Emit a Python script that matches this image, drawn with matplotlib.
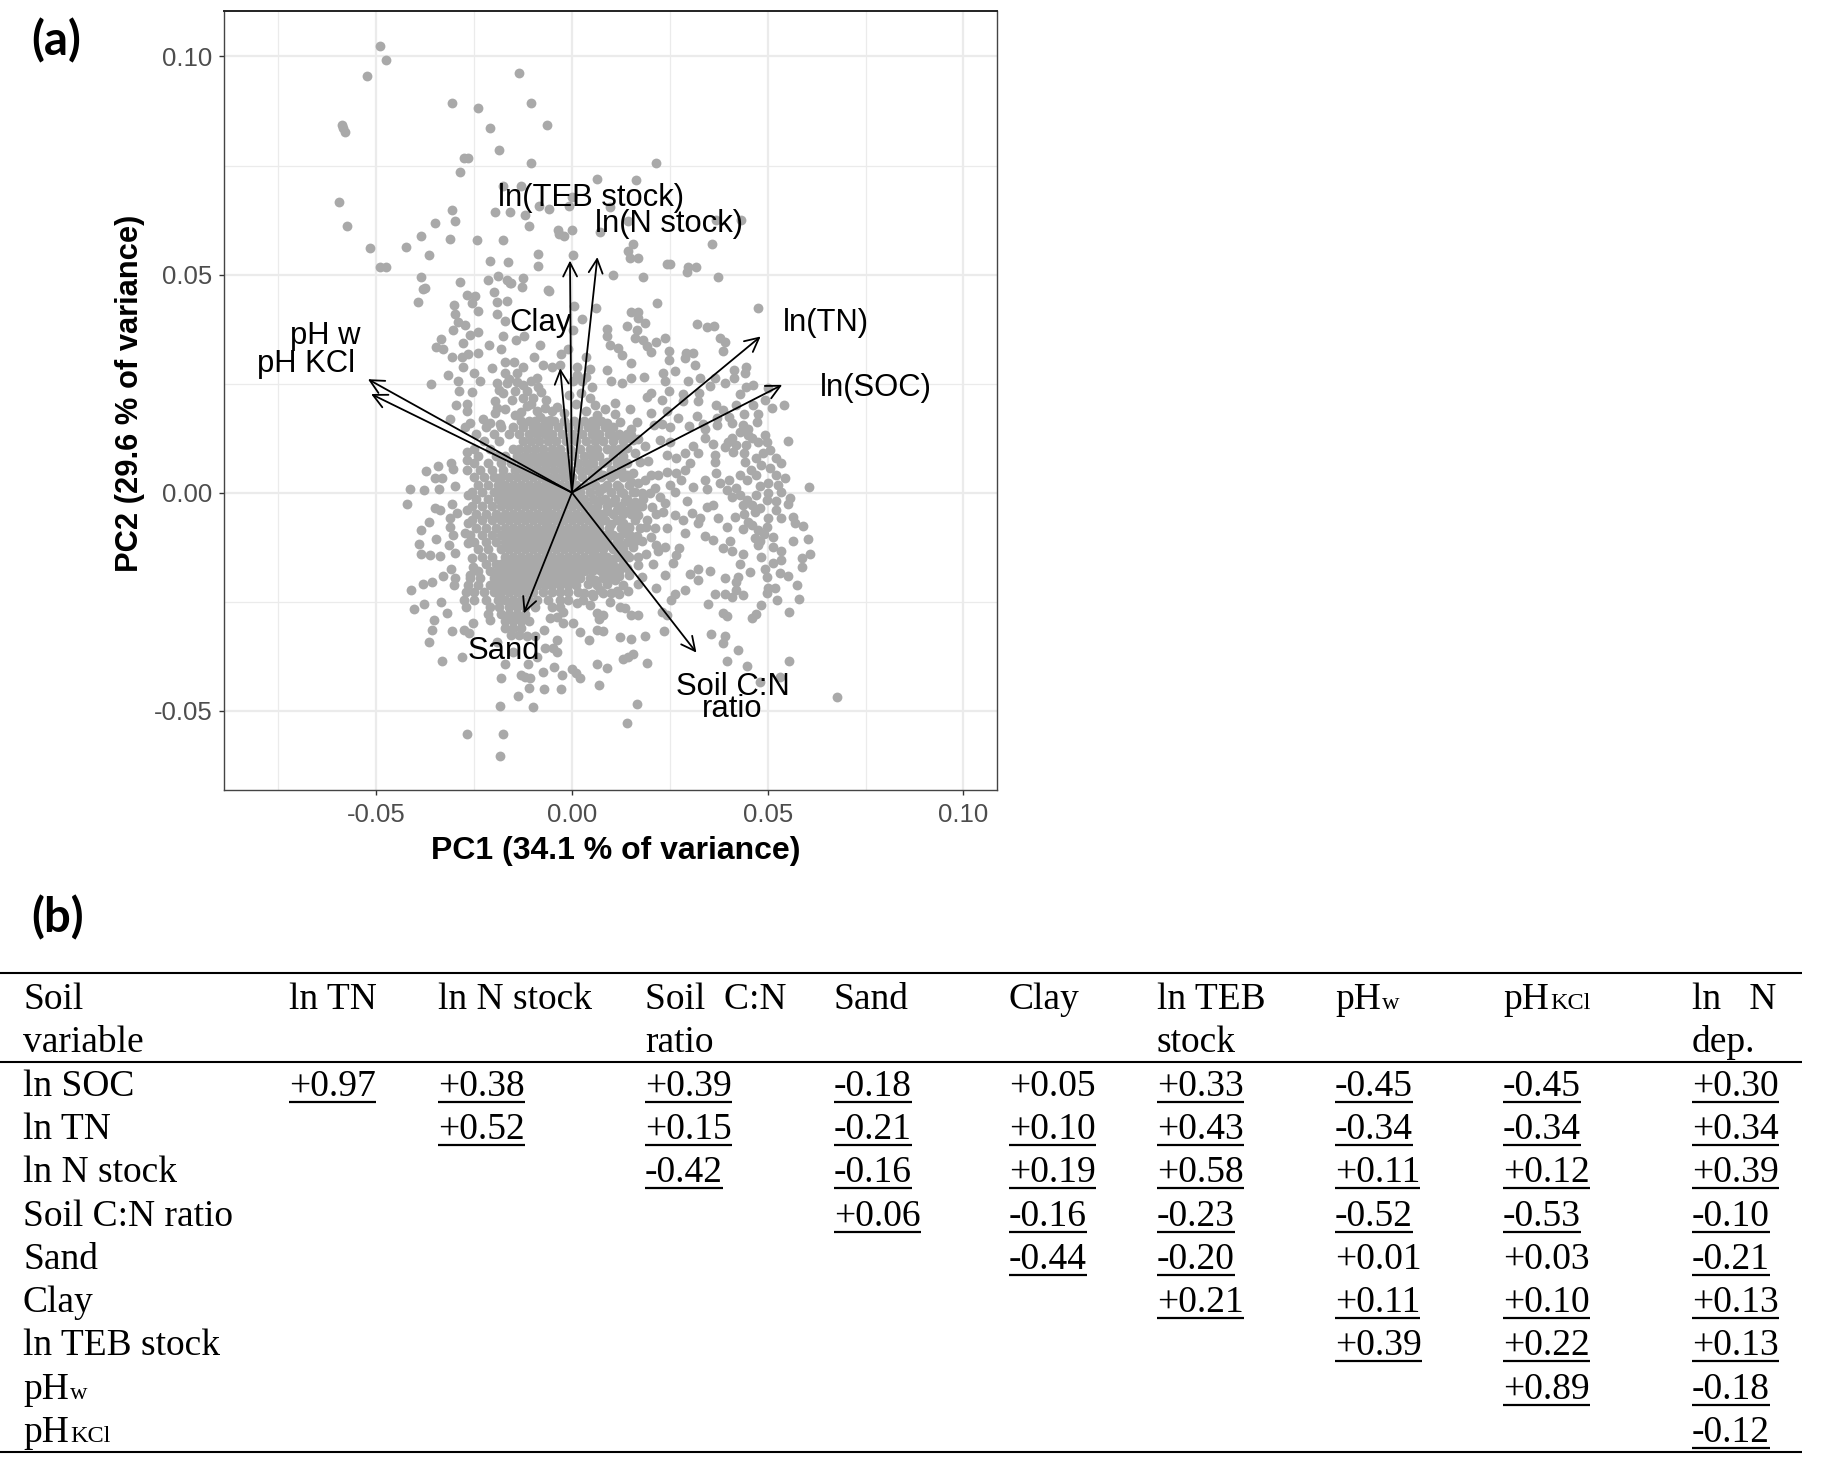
import matplotlib
matplotlib.use("Agg")
import matplotlib.pyplot as plt

plt.rcParams["font.family"] = ["Liberation Sans", "DejaVu Sans"]

# PCA scores, in thousandths of a unit (PC1, PC2)
upper_scores = [
    (-49.1, 102.4), (-47.4, 99.2), (-52.4, 95.5), (-13.4, 96.3), (-30.6, 89.4), (-23.9, 88.3), (-10.4, 89.4),
    (-20.9, 83.6), (-6.3, 84.3), (-58.7, 84.3), (-58.4, 83.6), (-57.9, 82.7), (-18.5, 78.5), (-27.5, 76.7),
    (-26.6, 76.7), (-10.4, 75.5), (21.4, 75.5), (-28.5, 73.4), (6.3, 71.9), (16.4, 71.6), (-13.0, 70.2),
    (-17.5, 70.2), (-59.6, 66.6), (-0.1, 67.7), (-8.3, 65.8), (-5.8, 65.1), (-0.8, 65.8), (9.7, 65.4),
    (-30.6, 64.7), (-19.6, 64.4), (-15.9, 64.4), (-12.1, 63.7), (-29.8, 62.2), (-35.1, 61.8), (-57.4, 61.1),
    (-10.9, 61.1), (14.4, 62.2), (36.9, 62.5), (43.1, 62.5), (-3.5, 60.2), (-3.2, 59.3), (-2.0, 58.9),
    (0.1, 60.1), (7.1, 59.7), (-38.5, 58.9), (-31.1, 58.2), (-24.3, 57.9), (-17.5, 57.9), (15.6, 57.1),
    (35.8, 57.1), (-51.6, 56.0), (-42.3, 56.4), (-36.4, 54.5), (-8.7, 54.6), (0.3, 54.5), (14.3, 55.4),
    (14.9, 53.9), (16.9, 53.9), (-20.9, 53.1), (-16.3, 52.8), (24.2, 52.4), (25.0, 52.4), (-8.7, 52.0),
    (-49.0, 51.7), (-47.4, 51.7), (29.7, 51.7), (31.8, 51.7), (29.4, 50.5), (10.5, 49.8), (18.2, 49.5),
    (37.4, 49.5), (-38.5, 49.5), (-28.5, 48.4), (-21.4, 48.8), (-19.0, 49.7), (-16.7, 48.8), (-15.5, 48.0),
    (-12.6, 49.2), (-37.5, 46.9), (-12.7, 47.1), (-6.0, 46.5),
]
mid_left_scores = [
    (-38.0, 46.6), (-39.4, 43.7), (-15.8, 48.0), (-5.8, 46.3), (-26.7, 45.2), (-24.8, 45.0), (-25.4, 43.4),
    (-23.9, 41.7), (-19.9, 45.9), (-19.1, 43.7), (-16.6, 44.0), (-30.1, 43.0), (-29.9, 40.9), (-19.2, 40.9),
    (-17.1, 39.4), (-29.0, 39.2), (-27.3, 38.5), (-30.3, 37.3), (-26.0, 36.2), (-23.9, 36.8), (-17.7, 36.0),
    (-14.3, 35.0), (-12.3, 36.0), (-33.5, 35.3), (-27.8, 34.3), (-21.1, 33.9), (-34.6, 33.3), (-32.9, 32.9),
    (-18.0, 32.9), (-8.2, 33.9), (-26.5, 31.8), (-23.9, 32.1), (-30.7, 31.0), (-28.2, 31.2), (-2.8, 31.8),
    (-0.9, 32.9), (-9.6, 31.0), (3.7, 31.0), (-17.1, 30.0), (-14.8, 30.0), (-12.4, 28.9), (-27.8, 28.7),
    (-20.3, 28.5), (-7.5, 29.3), (-5.2, 28.7), (-3.1, 29.3), (1.4, 28.7), (4.6, 28.3), (-31.6, 27.0),
    (-24.9, 27.4), (-17.1, 27.4), (-14.1, 27.4), (-9.0, 26.2), (-29.1, 25.5), (-23.5, 25.5), (-36.1, 24.8),
    (-19.2, 25.1), (-16.7, 25.1), (-12.4, 24.7), (-8.6, 24.3), (0.2, 25.5), (2.5, 25.5), (5.0, 24.3),
    (-28.9, 23.3), (-25.6, 23.0), (-17.5, 22.8), (-14.6, 23.2), (-11.6, 23.2), (-15.4, 21.3), (-9.9, 21.6),
    (-6.5, 21.3), (-19.7, 21.1), (-29.7, 20.1), (-26.7, 20.3), (-11.6, 19.9), (-19.2, 19.3), (-17.1, 19.1),
    (-26.9, 18.8), (-3.9, 19.7), (-14.6, 17.8), (-19.7, 18.2), (-9.0, 18.6), (-31.1, 16.8), (-22.6, 16.8),
    (-26.0, 15.9), (-27.3, 15.1), (-20.9, 15.9), (-18.4, 15.7), (-15.0, 15.1), (-8.2, 17.4), (-5.6, 16.7),
    (-13.0, 18.5), (-10.5, 20.4), (-7.0, 19.4), (-5.0, 18.6), (-2.0, 18.2), (1.0, 20.2), (3.5, 18.6),
    (6.0, 20.0), (-12.5, 21.6), (-8.0, 23.0), (-16.0, 26.0), (-14.0, 25.4), (-10.5, 25.6), (-18.5, 23.6),
    (-0.8, 22.4), (2.2, 22.8), (4.6, 21.6), (3.6, 26.6), (1.2, 27.0),
]
mid_right_scores = [
    (21.8, 43.4), (47.5, 42.3), (6.1, 42.3), (0.5, 42.7), (15.2, 41.5), (17.0, 41.4), (17.0, 40.0),
    (18.7, 39.0), (14.0, 38.3), (16.5, 37.3), (8.9, 37.5), (8.9, 35.8), (32.0, 38.7), (34.6, 37.9),
    (36.2, 38.2), (2.6, 39.8), (0.2, 37.3), (16.1, 35.4), (18.2, 35.0), (21.4, 34.6), (23.9, 35.4),
    (37.8, 35.4), (39.1, 34.6), (9.7, 33.9), (11.8, 33.1), (19.1, 33.5), (20.3, 32.3), (12.7, 31.6),
    (24.9, 32.5), (29.1, 32.1), (30.8, 32.1), (38.6, 32.5), (24.9, 30.4), (28.8, 30.8), (15.0, 29.7),
    (31.4, 29.3), (8.9, 28.1), (26.3, 27.8), (18.5, 26.6), (23.3, 27.4), (44.4, 28.7), (41.5, 28.1),
    (44.2, 27.4), (41.5, 26.2), (15.0, 26.2), (10.1, 25.5), (12.7, 25.2), (23.7, 25.5), (29.7, 25.5),
    (32.7, 26.2), (36.5, 26.2), (39.1, 25.1), (35.2, 24.5), (46.3, 24.7), (44.4, 24.2), (50.1, 23.9),
    (20.3, 22.8), (24.9, 23.2), (28.3, 22.6), (32.5, 22.8), (42.9, 22.6), (19.1, 21.9), (22.9, 21.3),
    (28.3, 20.9), (32.3, 20.9), (11.0, 20.5), (49.3, 21.3), (54.2, 20.1), (51.0, 19.3), (36.7, 20.1),
    (38.6, 19.0), (42.0, 20.1), (46.3, 20.1), (8.4, 19.1), (14.9, 19.1), (24.2, 18.7), (20.3, 18.2),
    (6.3, 17.8), (40.0, 17.4), (47.2, 16.3), (43.7, 15.5), (12.3, 16.3), (16.5, 16.3), (23.0, 15.8),
    (30.0, 15.2), (33.5, 15.8), (37.0, 15.4), (44.0, 18.0), (47.5, 18.0), (45.0, 14.5), (41.0, 16.0),
    (37.0, 17.0), (32.0, 17.5), (34.0, 14.5), (27.0, 17.0), (25.0, 15.0), (21.0, 15.5), (15.0, 14.5),
    (11.0, 18.0), (9.0, 16.0),
]
left_scores = [
    (-37.4, 4.9), (-34.3, 6.0), (-31.0, 6.7), (-30.3, 5.4), (-35.0, 3.4), (-33.1, 3.4), (-29.9, 1.6),
    (-33.9, 0.8), (-37.7, 0.5), (-41.4, 0.8), (-42.0, -2.7), (-35.0, -3.6), (-33.7, -4.0), (-30.7, -2.7),
    (-29.4, -4.6), (-31.1, -5.9), (-36.4, -6.7), (-38.6, -8.5), (-31.1, -7.8), (-30.5, -9.7), (-34.8, -10.6),
    (-39.0, -11.8), (-31.3, -12.0), (-38.6, -14.1), (-36.3, -14.4), (-33.6, -14.5), (-29.9, -13.9),
    (-25.4, -15.1), (-31.0, -17.6), (-32.9, -19.1), (-29.9, -19.6), (-26.9, 9.4), (-26.7, 7.5), (-26.9, 5.2),
    (-26.5, -0.5), (-26.7, -4.0), (-26.5, -7.0), (-27.3, -9.3), (-26.5, -11.6), (-25.2, -17.0), (-26.0, -18.9),
]
right_scores = [
    (34.0, 12.5), (36.1, 11.2), (55.1, 11.9), (49.3, 13.2), (49.7, 11.7), (47.6, 11.7), (50.6, 9.8),
    (48.9, 9.0), (42.9, 13.8), (45.0, 13.2), (39.9, 11.7), (42.0, 10.9), (39.1, 10.5), (41.2, 9.4),
    (43.9, 9.0), (44.2, 7.1), (53.4, 6.7), (48.4, 6.3), (50.6, 5.6), (45.7, 5.2), (42.9, 4.1), (47.0, 4.1),
    (52.1, 4.1), (54.5, 3.4), (44.6, 2.9), (50.1, 2.1), (52.6, 1.8), (60.6, 1.2), (42.0, 1.0), (39.5, 0.5),
    (53.5, 0.2), (50.1, -0.2), (42.9, -0.5), (44.6, -1.7), (49.7, -1.7), (55.7, -1.3), (55.2, -2.7),
    (45.9, -2.8), (43.7, -2.8), (52.1, -4.1), (46.7, -4.4), (50.1, -5.9), (53.4, -5.9), (56.4, -5.7),
    (45.0, -6.7), (41.6, -5.7), (37.4, -5.9), (57.0, -7.0), (58.9, -7.6), (39.5, -7.8), (43.7, -8.4),
    (47.6, -8.6), (49.7, -7.8), (46.7, -10.5), (51.4, -10.1), (60.2, -10.6), (56.4, -11.2), (47.6, -12.0),
    (51.4, -12.4), (40.3, -11.2), (38.6, -12.8), (40.8, -13.5), (43.7, -14.1), (60.9, -14.1), (53.5, -13.5),
    (48.4, -14.7), (58.8, -15.1), (53.5, -15.4), (51.4, -16.2), (42.9, -16.4), (58.8, -17.1), (49.3, -17.6),
    (45.4, -18.3), (53.1, -18.5), (55.1, -19.1), (49.7, -19.3), (42.5, -19.3), (39.1, -19.6),
    (31.0, 10.6), (28.9, 9.0), (32.3, 9.0), (26.7, 7.9), (24.2, 8.6), (36.5, 8.6), (36.5, 7.1), (30.1, 6.7),
    (28.9, 5.2), (36.9, 4.6), (24.2, 4.8), (22.0, 4.1), (20.3, 4.1), (26.5, 4.4), (27.8, 2.9), (34.0, 2.8),
    (37.8, 2.3), (18.6, 2.9), (31.0, 1.2), (34.4, 0.8), (25.0, 1.8), (26.3, 0.2), (21.2, 1.0), (22.5, -0.9),
    (18.2, -1.5), (29.4, -1.9), (23.7, -2.4), (36.1, -2.8), (34.4, -3.4), (23.3, -4.4), (16.5, -3.6),
    (26.3, -5.1), (30.6, -4.7), (28.4, -6.3), (32.8, -5.9), (19.1, -6.3), (24.2, -8.2), (21.2, -8.2),
    (32.3, -7.0), (28.9, -9.3), (34.0, -9.9), (36.1, -10.9), (13.5, -9.3), (16.5, -9.9), (20.3, -10.2),
    (21.6, -12.0), (23.7, -12.5), (27.4, -12.8), (26.5, -14.3), (22.0, -13.5), (15.7, -12.4), (25.9, -16.2),
    (20.8, -16.4), (16.9, -14.7), (16.9, -16.6), (35.2, -17.9), (32.3, -17.6), (30.1, -18.7), (23.7, -18.9),
    (14.8, 12.5), (16.1, 9.0), (18.6, 10.6), (22.5, 12.1), (25.0, 11.5), (13.1, 6.7), (15.7, 4.4),
    (15.5, 12.0), (17.0, 12.4), (17.5, 7.0), (19.5, 7.2), (15.0, 2.5), (17.0, 2.2), (13.0, 0.0), (15.5, 0.2),
    (18.0, 0.0), (20.0, -0.2), (18.0, -3.0), (20.5, -3.2), (15.0, -5.0), (17.0, -5.2), (21.5, -5.0),
    (14.5, -8.0), (17.5, -8.2), (19.0, -7.8), (16.0, -11.0), (18.0, -11.2), (12.0, -14.0), (14.0, -14.2),
    (19.0, -14.0), (11.0, -17.0), (14.0, -17.2), (10.0, -19.0), (12.0, -19.2), (14.5, -19.0), (18.0, -19.4),
    (4.0, -21.0), (6.5, -21.2), (9.0, -21.0), (13.0, -21.2), (17.0, -21.0), (3.0, -23.0), (5.0, -23.2),
    (8.0, -23.0), (12.0, -23.2), (40.0, 3.0), (41.0, -1.0), (47.0, -0.5), (48.0, -3.5), (44.0, -5.0),
    (52.0, -2.0), (48.0, 1.5), (46.0, -7.5), (49.0, -9.5), (48.0, -11.0), (47.0, 8.0), (44.5, 11.0),
    (46.0, 12.5), (41.0, 12.5), (52.0, 8.0),
]
core_right_scores = [
    (11.0, 13.0), (15.0, 13.2), (10.5, 10.0), (14.0, 10.2), (9.0, 7.0), (12.0, 7.2), (8.0, 4.0), (11.0, 4.2),
    (14.0, 4.0), (8.0, 1.0), (12.0, 1.2), (7.0, -2.0), (10.5, -2.2), (13.5, -2.0), (16.0, -2.2), (6.0, -4.0),
    (9.0, -4.2), (11.5, -4.0), (14.0, -4.2), (7.0, -7.0), (10.0, -7.2), (13.0, -7.0), (9.5, -10.0),
    (12.0, -10.2), (15.0, -10.0), (7.5, -12.0), (10.0, -12.2), (12.5, -12.0), (8.0, -15.0), (10.5, -15.2),
    (13.0, -15.0), (6.5, -17.5), (9.0, -17.7), (6.0, -20.0), (9.0, -20.2), (11.0, -20.0),
]
lower_scores = [
    (-41.1, -22.3), (-38.1, -20.9), (-35.7, -20.6), (-37.7, -25.5), (-40.3, -26.7), (-33.5, -25.2),
    (-31.8, -27.7), (-35.2, -29.2), (-35.7, -31.4), (-30.6, -31.7), (-27.6, -31.5), (-26.2, -32.1),
    (-25.2, -29.8), (-36.4, -34.3), (-33.1, -38.6), (-28.0, -37.8), (-20.9, -29.2), (-17.1, -39.4),
    (-11.3, -39.4), (-19.2, -34.2), (-15.0, -36.5), (-9.0, -37.6), (-6.9, -35.7), (-3.7, -33.9), (-4.8, -35.7),
    (-3.7, -36.5), (-7.1, -31.5), (-11.6, -33.0), (-9.4, -33.0), (-7.5, -41.2), (-4.6, -40.1), (-2.5, -41.9),
    (-18.0, -42.6), (-12.9, -41.8), (-10.7, -42.6), (-12.0, -42.2), (-0.1, -40.5), (1.0, -41.3), (2.0, -42.6),
    (6.5, -39.4), (8.9, -40.2), (19.3, -39.0), (13.1, -38.2), (14.4, -37.8), (15.7, -36.9), (-10.9, -44.7),
    (-7.1, -45.0), (-2.9, -45.1), (6.8, -44.1), (-13.7, -46.6), (-18.4, -48.9), (-10.0, -49.1), (16.5, -48.5),
    (14.0, -52.8), (-26.7, -55.3), (-17.5, -55.3), (-18.4, -60.3), (67.6, -46.9), (55.5, -38.6), (53.1, -42.2),
    (48.0, -43.4), (44.6, -39.8), (39.5, -38.6), (42.5, -36.1), (39.1, -33.0), (38.7, -34.4), (35.4, -32.5),
    (23.6, -31.7), (18.6, -32.8), (15.2, -33.6), (12.3, -33.2), (4.3, -33.8), (2.0, -32.0), (6.3, -31.5),
    (8.0, -31.7), (0.3, -29.8), (-2.2, -30.0), (-5.6, -28.7), (-2.2, -27.3), (-3.9, -28.6), (7.0, -29.1),
    (8.0, -28.1), (6.3, -27.7), (15.2, -28.1), (16.9, -28.1), (12.3, -26.2), (13.5, -26.5), (9.7, -25.0),
    (10.1, -23.1), (11.4, -22.5), (5.4, -23.8), (7.1, -22.3), (2.9, -24.6), (4.6, -25.8), (1.2, -25.4),
    (14.4, -22.6), (21.6, -21.9), (22.9, -27.3), (24.2, -28.1), (25.4, -24.6), (26.3, -23.2), (29.0, -22.3),
    (34.8, -25.5), (38.6, -27.7), (39.7, -28.3), (45.9, -28.8), (46.9, -27.9), (48.4, -25.8), (55.5, -27.4),
    (36.5, -23.3), (39.1, -23.3), (40.8, -23.9), (42.0, -22.3), (43.7, -23.5), (49.7, -23.1), (51.8, -21.9),
    (52.3, -24.6), (57.5, -21.2), (58.0, -24.3), (50.1, -21.9), (42.0, -20.4), (32.3, -20.0),
]

# dense middle of the cloud, where single dots merge: PC2 level, then PC1 values on it
core_pc2 = [16.5, 15, 13.4, 11.8, 10.1, 8.4, 6.8, 5.1, 3.5, 1.8, 0.2, -1.5, -3.1, -4.8, -6.4, -8.1, -9.7,
            -11.4, -13, -14.7, -16.3, -18, -19.6, -21.3, -22.9, -24.6, -26.2, -27.9, -29.5, -31, -32.6]
core_pc1 = [
    [-13, -11, -9.5, -7, -4.5, -2, 0.5, 3, 5, 7.5],
    [-22, -18, -12.5, -10, -8, -6, -3.5, -1, 1.5, 4, 6, 8.5, 10.5],
    [-24.5, -20, -16, -13.5, -11, -9, -7, -5, -2.5, 0, 2.5, 5, 7, 9.5, 12, 14],
    [-22.5, -18.5, -12.5, -10.5, -8.5, -6, -4, -1.5, 1, 3.5, 6, 8, 10.5, 13],
    [-25, -21, -15, -13.5, -11.5, -9.5, -7.5, -5, -3, -0.5, 2, 4.5, 6.5, 9, 12],
    [-24, -19.5, -17, -14, -12, -10, -8, -6, -4, -2, 0.5, 3, 5, 7, 10.5, 13],
    [-25, -21.5, -18, -15.5, -13, -11, -9, -7, -5, -3, -1, 1.5, 3.5, 5.5, 8, 11.5, 14],
    [-23.5, -20.5, -17.5, -14.5, -12.5, -10.5, -8.5, -6.5, -4.5, -2.5, -0.5, 2, 4, 6.5, 10, 12.5],
    [-25, -22.5, -20, -18, -16, -14, -12, -10, -8, -6, -4, -2, 0, 2.5, 5, 7.5, 10, 13],
    [-24, -21.5, -19, -17, -15, -13, -11, -9, -7, -5, -3, -1, 1, 3.5, 6, 9, 11.5, 14.5],
    [-25.5, -23, -20, -18, -16, -14, -12, -10, -8, -6, -4, -2, 0, 2, 4.5, 7, 10, 12.5, 16],
    [-24.5, -21.5, -19, -17, -15, -13, -11, -9, -7, -5, -3, -1, 1, 3, 5.5, 8.5, 11, 14],
    [-25.5, -23, -20.5, -18, -16, -14, -12, -10, -8, -6, -4, -2, 0, 2, 4, 6.5, 9, 12.5, 15],
    [-24.5, -22, -19.5, -17, -15, -13, -11, -9, -7, -5, -3, -1, 1, 3, 5, 7.5, 10.5, 13],
    [-25.5, -23, -20.5, -18, -16, -14, -12, -10, -8, -6, -4, -2, 0, 2, 4, 6, 8.5, 11.5, 16],
    [-24.5, -22, -19.5, -17, -15, -13, -11, -9, -7, -5, -3, -1, 1, 3, 5, 7, 9.5, 12.5, 14.5],
    [-26, -23, -20.5, -18, -16, -14, -12, -10, -8, -6, -4, -2, 0, 2, 4, 6, 8, 10.5],
    [-25, -22, -19.5, -17, -15, -13, -11, -9, -7, -5, -3, -1, 1, 3, 5, 7, 9, 11.5, 14],
    [-24, -21.5, -18, -16, -14, -12, -10, -8, -6, -4, -2, 0, 2, 4, 6, 8, 10.5, 13],
    [-23, -20.5, -17, -15, -13, -11, -9, -7, -5, -3, -1, 1, 3, 5, 7, 9, 11.5, 14.5],
    [-22, -19.5, -18, -16, -14, -12, -10, -8, -6, -4, -2, 0, 2, 4, 6, 8, 10, 13],
    [-24, -21, -19, -17, -15, -13, -11, -9, -7, -5, -3, -1, 1, 3, 5, 7.5, 12],
    [-26, -23.5, -20, -18, -16, -14, -12, -10, -8, -6, -4, -2, 0, 2, 4.5, 8],
    [-30, -26.5, -24, -21, -19, -17, -15, -13, -11, -9, -7, -5, -3, -1, 1],
    [-27, -25, -22.5, -20, -18, -16, -14, -12, -10, -7.5, -5, -3, -1, 1.5],
    [-27.5, -25, -22, -19, -17, -15, -13, -11, -9, -6, -3, -1],
    [-27, -21, -18.5, -16, -14, -12, -9.5, -5, -3],
    [-21.5, -18, -16, -14, -12],
    [-17, -15, -13, -11],
    [-17, -15, -13],
    [-15.5, -13.5],
]

# loading arrows, tip of each one
arrow_names = ["pH w", "pH KCl", "Clay", "ln(TEB stock)", "ln(N stock)", "ln(TN)", "ln(SOC)", "Sand", "Soil C:N\nratio"]
arrow_pc1 = [-0.0521, -0.0513, -0.0030, -0.0005, 0.0065, 0.0482, 0.0537, -0.0123, 0.0318]
arrow_pc2 = [0.0260, 0.0226, 0.0285, 0.0532, 0.0540, 0.0358, 0.0247, -0.0277, -0.0367]
label_pc1 = [-0.0629, -0.0680, -0.0080, 0.0049, 0.0248, 0.0648, 0.0775, -0.0173, 0.0410]
label_pc2 = [0.0360, 0.0295, 0.0389, 0.0676, 0.0615, 0.0390, 0.0240, -0.0364, -0.0472]

x_ticks = [-0.05, 0.00, 0.05, 0.10]
y_ticks = [-0.05, 0.00, 0.05, 0.10]

# correlation table, _ starts a subscript
table_head = [["Soil", "variable"], ["ln TN"], ["ln N stock"], ["Soil  C:N", "ratio"], ["Sand"], ["Clay"],
              ["ln TEB", "stock"], ["pH_w"], ["pH_KCl"], ["ln   N", "dep."]]
row_names = ["ln SOC", "ln TN", "ln N stock", "Soil C:N ratio", "Sand", "Clay", "ln TEB stock", "pH_w", "pH_KCl"]
corr_values = [
    ["+0.97", "+0.38", "+0.39", "-0.18", "+0.05", "+0.33", "-0.45", "-0.45", "+0.30"],
    ["", "+0.52", "+0.15", "-0.21", "+0.10", "+0.43", "-0.34", "-0.34", "+0.34"],
    ["", "", "-0.42", "-0.16", "+0.19", "+0.58", "+0.11", "+0.12", "+0.39"],
    ["", "", "", "+0.06", "-0.16", "-0.23", "-0.52", "-0.53", "-0.10"],
    ["", "", "", "", "-0.44", "-0.20", "+0.01", "+0.03", "-0.21"],
    ["", "", "", "", "", "+0.21", "+0.11", "+0.10", "+0.13"],
    ["", "", "", "", "", "", "+0.39", "+0.22", "+0.13"],
    ["", "", "", "", "", "", "", "+0.89", "-0.18"],
    ["", "", "", "", "", "", "", "", "-0.12"],
]
# (row, column) of the values that are not underlined
plain_cells = [(0, 4), (4, 6), (4, 7)]


def plot_pca(fig):

    ax = fig.add_axes([223.6 / 1821, 1 - 790 / 1470, 773.9 / 1821, 779.3 / 1470])

    scores = (upper_scores + mid_left_scores + mid_right_scores + left_scores + right_scores
              + core_right_scores + lower_scores)
    for level, values in zip(core_pc2, core_pc1):
        scores = scores + [(v, level) for v in values]

    ax.scatter([p[0] / 1000 for p in scores], [p[1] / 1000 for p in scores],
               s=50, color="#A9A9A9", linewidths=0, zorder=3)

    for i, name in enumerate(arrow_names):
        ax.annotate("", xy=(arrow_pc1[i], arrow_pc2[i]), xytext=(0, 0),
                    arrowprops=dict(arrowstyle="->,head_length=10,head_width=5", mutation_scale=1,
                                    lw=1.3, color="black", shrinkA=0, shrinkB=0), zorder=4)
        ax.text(label_pc1[i], label_pc2[i], name, fontsize=22.3, ha="center", va="center",
                linespacing=0.65, zorder=5)

    ax.set_xlim(-0.08897, 0.1087)
    ax.set_ylim(-0.0682, 0.1105)
    ax.set_xticks(x_ticks)
    ax.set_yticks(y_ticks)
    ax.set_xticklabels(["%.2f" % v for v in x_ticks])
    ax.set_yticklabels(["%.2f" % v for v in y_ticks])
    ax.set_xticks([-0.075, -0.025, 0.025, 0.075], minor=True)
    ax.set_yticks([-0.025, 0.025, 0.075], minor=True)
    ax.tick_params(axis="both", which="major", labelsize=18.5, labelcolor="#4D4D4D", color="#333333",
                   length=3.5, width=1, pad=4.5)
    ax.tick_params(axis="x", which="major", pad=6)
    ax.tick_params(axis="both", which="minor", length=0)
    ax.grid(True, which="major", color="#EBEBEB", lw=1.6, zorder=0)
    ax.grid(True, which="minor", color="#EBEBEB", lw=0.9, zorder=0)
    ax.set_axisbelow(True)

    for side in ax.spines:
        ax.spines[side].set_color("#444444")
        ax.spines[side].set_linewidth(1.0)
    ax.spines["top"].set_color("#222222")
    ax.spines["top"].set_linewidth(1.4)

    fig.text(616 / 1821, 1 - 851 / 1470, "PC1 (34.1 % of variance)", fontsize=23, fontweight="bold",
             ha="center", va="center")
    fig.text(130 / 1821, 1 - 393 / 1470, "PC2 (29.6 % of variance)", fontsize=22.2, fontweight="bold",
             ha="center", va="center", rotation=90)


def draw_cell(ax, x, y, label, underline=False):

    base, _, sub = label.partition("_")
    serif = ["Liberation Serif", "DejaVu Serif"]
    t = ax.text(x, y, base, fontsize=27, family=serif, va="baseline", ha="left")
    renderer = ax.figure.canvas.get_renderer()
    end = t.get_window_extent(renderer).x1
    if sub:
        ax.text(end + 1, y, sub, fontsize=17.5, family=serif, va="baseline", ha="left")
    if underline:
        ax.plot([x, end], [y + 6, y + 6], color="black", lw=1.6, solid_capstyle="butt")


def plot_table(fig):

    # this axes runs in figure pixels so table rows can sit on their measured baselines
    ax = fig.add_axes([0, 0, 1, 1])
    ax.set_xlim(0, 1821)
    ax.set_ylim(1470, 0)
    ax.axis("off")
    ax.patch.set_alpha(0)

    col_x = [23, 289, 438, 645, 834, 1009, 1157, 1335, 1503, 1692]

    for y in [973, 1062, 1452]:
        ax.plot([0, 1802], [y, y], color="black", lw=1.5, solid_capstyle="butt")

    for x, lines in zip(col_x, table_head):
        for j, line in enumerate(lines):
            draw_cell(ax, x, 1009 + 43 * j, line)

    for i, name in enumerate(row_names):
        y = 1095.6 + 43.3 * i
        draw_cell(ax, col_x[0], y, name)
        for j, value in enumerate(corr_values[i]):
            if value:
                draw_cell(ax, col_x[j + 1], y, value, underline=(i, j) not in plain_cells)

    ax.text(31, 41, "(a)", fontsize=34, fontweight="bold", family=["Lato", "DejaVu Sans"], va="center", ha="left")
    ax.text(31, 918, "(b)", fontsize=34, fontweight="bold", family=["Lato", "DejaVu Sans"], va="center", ha="left")


if __name__ == "__main__":

    fig = plt.figure(figsize=(18.21, 14.7), dpi=100)

    plot_pca(fig)
    plot_table(fig)

    fig.savefig("out.png", dpi=100)
